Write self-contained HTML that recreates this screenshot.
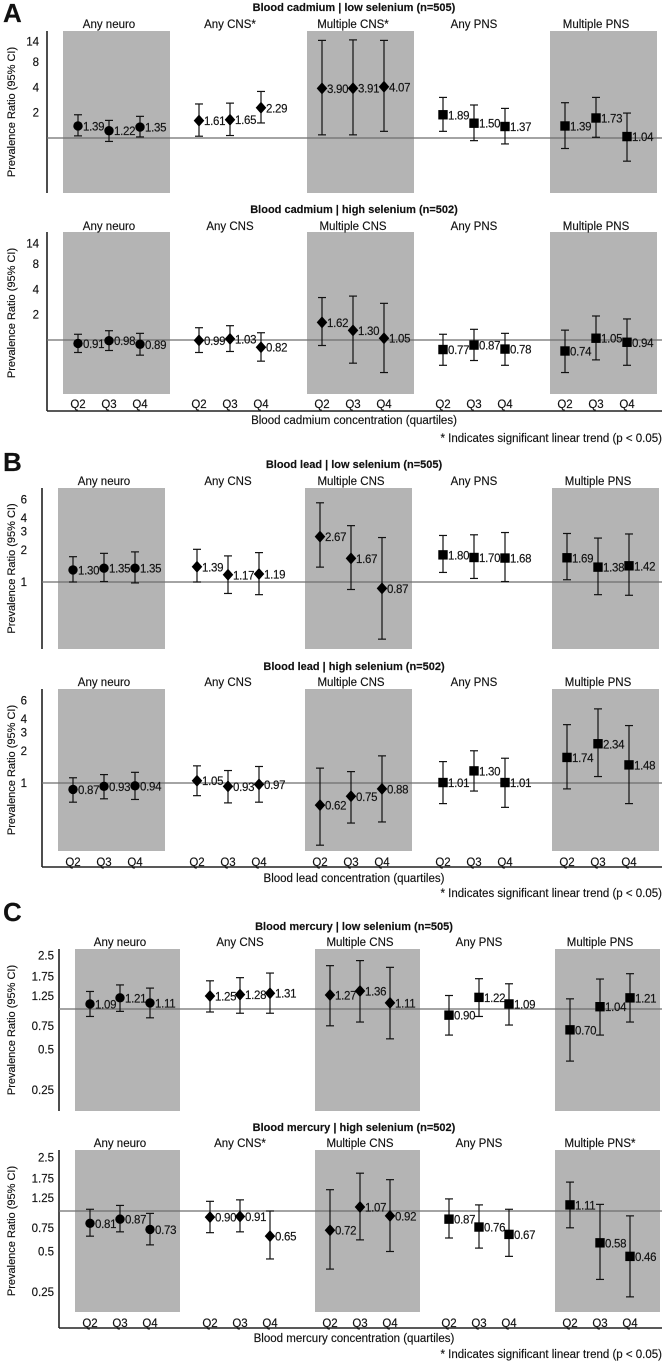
<!DOCTYPE html>
<html><head><meta charset="utf-8">
<style>
html,body{margin:0;padding:0;background:#fff;}
svg{display:block;font-family:"Liberation Sans",Arial,sans-serif;}
svg text{stroke:#111;stroke-width:0.15px;}
</style></head>
<body>
<svg id="fig" width="666" height="1364" viewBox="0 0 666 1364" xmlns="http://www.w3.org/2000/svg"></svg>
<script>
const categories = ["Any neuro","Any CNS","Multiple CNS","Any PNS","Multiple PNS"];
const quartiles = ["Q2","Q3","Q4"];

const cdLowEst = [1.39,1.22,1.35, 1.61,1.65,2.29, 3.90,3.91,4.07, 1.89,1.50,1.37, 1.39,1.73,1.04];
const cdLowLo  = [1.06,0.91,1.03, 1.05,1.07,1.51, 1.09,1.09,1.20, 1.20,0.93,0.85, 0.75,1.02,0.53];
const cdLowHi  = [1.89,1.62,1.81, 2.54,2.60,3.58, 14.5,14.7,14.5, 3.04,2.47,2.25, 2.63,3.04,1.98];
const cdHighEst = [0.91,0.98,0.89, 0.99,1.03,0.82, 1.62,1.30,1.05, 0.77,0.87,0.78, 0.74,1.05,0.94];
const cdHighLo  = [0.71,0.75,0.66, 0.71,0.73,0.56, 0.86,0.53,0.41, 0.50,0.57,0.50, 0.41,0.58,0.50];
const cdHighHi  = [1.17,1.29,1.20, 1.40,1.48,1.22, 3.20,3.33,2.73, 1.17,1.34,1.20, 1.31,1.93,1.78];

const pbLowEst = [1.30,1.35,1.35, 1.39,1.17,1.19, 2.67,1.67,0.87, 1.80,1.70,1.68, 1.69,1.38,1.42];
const pbLowLo  = [1.00,1.01,0.98, 1.00,0.78,0.76, 1.38,0.85,0.29, 1.23,1.08,1.01, 1.05,0.76,0.75];
const pbLowHi  = [1.73,1.86,1.92, 2.03,1.76,1.89, 5.56,3.39,2.62, 2.74,2.78,2.92, 2.86,2.59,2.83];
const pbHighEst = [0.87,0.93,0.94, 1.05,0.93,0.97, 0.62,0.75,0.88, 1.01,1.30,1.01, 1.74,2.34,1.48];
const pbHighLo  = [0.66,0.71,0.70, 0.76,0.65,0.66, 0.26,0.42,0.43, 0.64,0.84,0.59, 0.88,1.15,0.64];
const pbHighHi  = [1.12,1.20,1.26, 1.45,1.31,1.43, 1.38,1.28,1.80, 1.59,2.01,1.71, 3.54,4.98,3.47];

const hgLowEst = [1.09,1.21,1.11, 1.25,1.28,1.31, 1.27,1.36,1.11, 0.90,1.22,1.09, 0.70,1.04,1.21];
const hgLowLo  = [0.88,0.96,0.86, 0.95,0.93,0.93, 0.75,0.80,0.60, 0.64,0.88,0.76, 0.41,0.64,0.80];
const hgLowHi  = [1.35,1.51,1.43, 1.62,1.71,1.85, 2.10,2.29,2.04, 1.26,1.68,1.54, 1.19,1.67,1.83];
const hgHighEst = [0.81,0.87,0.73, 0.90,0.91,0.65, 0.72,1.07,0.92, 0.87,0.76,0.67, 1.11,0.58,0.46];
const hgHighLo  = [0.65,0.70,0.56, 0.69,0.70,0.44, 0.37,0.61,0.50, 0.63,0.53,0.46, 0.75,0.31,0.23];
const hgHighHi  = [1.03,1.10,0.96, 1.18,1.21,1.00, 1.44,1.91,1.71, 1.23,1.11,1.03, 1.64,1.12,0.92];

const ticksA = [14,8,4,2];
const ticksB = [6,4,3,2,1];
const ticksC = [2.5,1.75,1.25,0.75,0.5,0.25];

const svg = document.getElementById('fig');
const NS = 'http://www.w3.org/2000/svg';
function mk(tag, attrs, parent){
  const e = document.createElementNS(NS, tag);
  for (const k in attrs) e.setAttribute(k, attrs[k]);
  (parent||svg).appendChild(e);
  return e;
}
function txt(s, attrs, parent){ const t = mk('text', attrs, parent); t.textContent = s; return t; }

const shapes = ['circle','diamond','diamond','square','square'];
const FS = 11.5;

const panels = [
  {letter:'A', letterY:22, metal:'cadmium', axisX:47, centers:[109,230,353,474,596], dq:31,
   ticks:ticksA, tickGap:8, k:25.3,
   subs:[
     {title:'Blood cadmium | low selenium (n=505)', star:[0,1,1,0,0], titleY:11, catY:28, top:31, bottom:193, ref:138, est:cdLowEst, lo:cdLowLo, hi:cdLowHi},
     {title:'Blood cadmium | high selenium (n=502)', star:[0,0,0,0,0], titleY:213, catY:230, top:232, bottom:394, ref:340, est:cdHighEst, lo:cdHighLo, hi:cdHighHi}
   ], qY:408, xAxisY:411, xTitleY:424, footY:442},
  {letter:'B', letterY:471, metal:'lead', axisX:42, centers:[104,228,351,474,598], dq:31,
   ticks:ticksB, tickGap:15, k:32,
   subs:[
     {title:'Blood lead | low selenium (n=505)', star:[0,0,0,0,0], titleY:468, catY:485, top:488, bottom:649, ref:582, est:pbLowEst, lo:pbLowLo, hi:pbLowHi},
     {title:'Blood lead | high selenium (n=502)', star:[0,0,0,0,0], titleY:670, catY:686, top:689, bottom:851, ref:783, est:pbHighEst, lo:pbHighLo, hi:pbHighHi}
   ], qY:866, xAxisY:867, xTitleY:882, footY:897},
  {letter:'C', letterY:921, metal:'mercury', axisX:59, centers:[120,240,360,479,600], dq:30,
   ticks:ticksC, tickGap:5, k:40.5,
   subs:[
     {title:'Blood mercury | low selenium (n=505)', star:[0,0,0,0,0], titleY:930, catY:946, top:949, bottom:1111, ref:1009, est:hgLowEst, lo:hgLowLo, hi:hgLowHi},
     {title:'Blood mercury | high selenium (n=502)', star:[0,1,0,0,1], titleY:1131, catY:1147, top:1150, bottom:1312, ref:1211, est:hgHighEst, lo:hgHighLo, hi:hgHighHi}
   ], qY:1327, xAxisY:1328, xTitleY:1342, footY:1358}
];

panels.forEach(function(p){
  const g = mk('g', {});
  
  
  const L = txt(p.letter, {x:3, y:p.letterY, 'font-size':26, 'font-weight':'bold', fill:'#111'}, g);
  
  
  function qx(c, q){ return p.centers[c] + (q-1)*p.dq; }

  p.subs.forEach(function(s, si){
    const sg = mk('g', {}, g);
    
    
    function y(v){ return s.ref - p.k*Math.log2(v); }
    [0,2,4].forEach(function(c){
      const r = mk('rect', {x:qx(c,0)-15, y:s.top, width:(qx(c,2)+30)-(qx(c,0)-15), height:s.bottom-s.top, fill:'#b4b4b4'}, sg);
      
      
    });
    const T = txt(s.title, {x:354, y:s.titleY, 'text-anchor':'middle', 'font-size':11, 'font-weight':'bold', fill:'#111'}, sg);
    
    
    categories.forEach(function(cat, c){
      const ct = txt(cat + (s.star[c] ? '*' : ''), {x:qx(c,1), y:s.catY, 'text-anchor':'middle', 'font-size':FS, fill:'#111'}, sg);
      
      
    });
    const ax = mk('line', {x1:p.axisX, x2:p.axisX, y1:s.top, y2: si===0 ? s.bottom : p.xAxisY, stroke:'#222', 'stroke-width':1.6}, sg);
    
    
    p.ticks.forEach(function(t){
      const tl = txt(String(t), {x:p.axisX-p.tickGap, y:y(t)+4, 'text-anchor':'end', 'font-size':FS, fill:'#111'}, sg);
      
      
    });
    const yt = txt('Prevalence Ratio (95% CI)', {x:0, y:0, transform:'translate(15,'+((s.top+s.bottom)/2)+') rotate(-90)', 'text-anchor':'middle', 'font-size':11, fill:'#111'}, sg);
    
    
    const rl = mk('line', {x1:p.axisX, x2:662, y1:y(1), y2:y(1), stroke:'#6e6e6e', 'stroke-width':1.2}, sg);
    
    
    categories.forEach(function(cat, c){
      for (let q=0; q<3; q++){
        const i = c*3+q;
        const x = qx(c,q);
        const yv = y(s.est[i]), yl = y(s.lo[i]), yh = y(s.hi[i]);
        const pg = mk('g', {}, sg);
        
        
        mk('line', {x1:x, x2:x, y1:yh, y2:yl, stroke:'#111', 'stroke-width':1.2}, pg);
        mk('line', {x1:x-4, x2:x+4, y1:yh, y2:yh, stroke:'#111', 'stroke-width':1.2}, pg);
        mk('line', {x1:x-4, x2:x+4, y1:yl, y2:yl, stroke:'#111', 'stroke-width':1.2}, pg);
        const sh = shapes[c];
        if (sh==='circle') mk('circle', {cx:x, cy:yv, r:4.7, fill:'#000'}, pg);
        else if (sh==='diamond') mk('polygon', {points:(x)+','+(yv-6)+' '+(x+5.3)+','+yv+' '+x+','+(yv+6)+' '+(x-5.3)+','+yv, fill:'#000'}, pg);
        else mk('rect', {x:x-4.7, y:yv-4.7, width:9.4, height:9.4, fill:'#000'}, pg);
        const vl = txt(s.est[i].toFixed(2), {x:x+5, y:yv+4.5, 'font-size':FS, fill:'#111', 'letter-spacing':'-0.3'}, pg);
        
        
      }
    });
  });
  const xa = mk('line', {x1:p.axisX, x2:662, y1:p.xAxisY, y2:p.xAxisY, stroke:'#222', 'stroke-width':1.6}, g);
  
  
  categories.forEach(function(cat, c){
    quartiles.forEach(function(qn, q){
      const ql = txt(qn, {x:qx(c,q), y:p.qY, 'text-anchor':'middle', 'font-size':FS, fill:'#111'}, g);
      
      
    });
  });
  const xt = txt('Blood ' + p.metal + ' concentration (quartiles)', {x:354, y:p.xTitleY, 'text-anchor':'middle', 'font-size':FS, fill:'#111'}, g);
  
  
  const ft = txt('* Indicates significant linear trend (p < 0.05)', {x:662, y:p.footY, 'text-anchor':'end', 'font-size':FS, fill:'#111'}, g);
  
  
});
</script>
</body></html>
